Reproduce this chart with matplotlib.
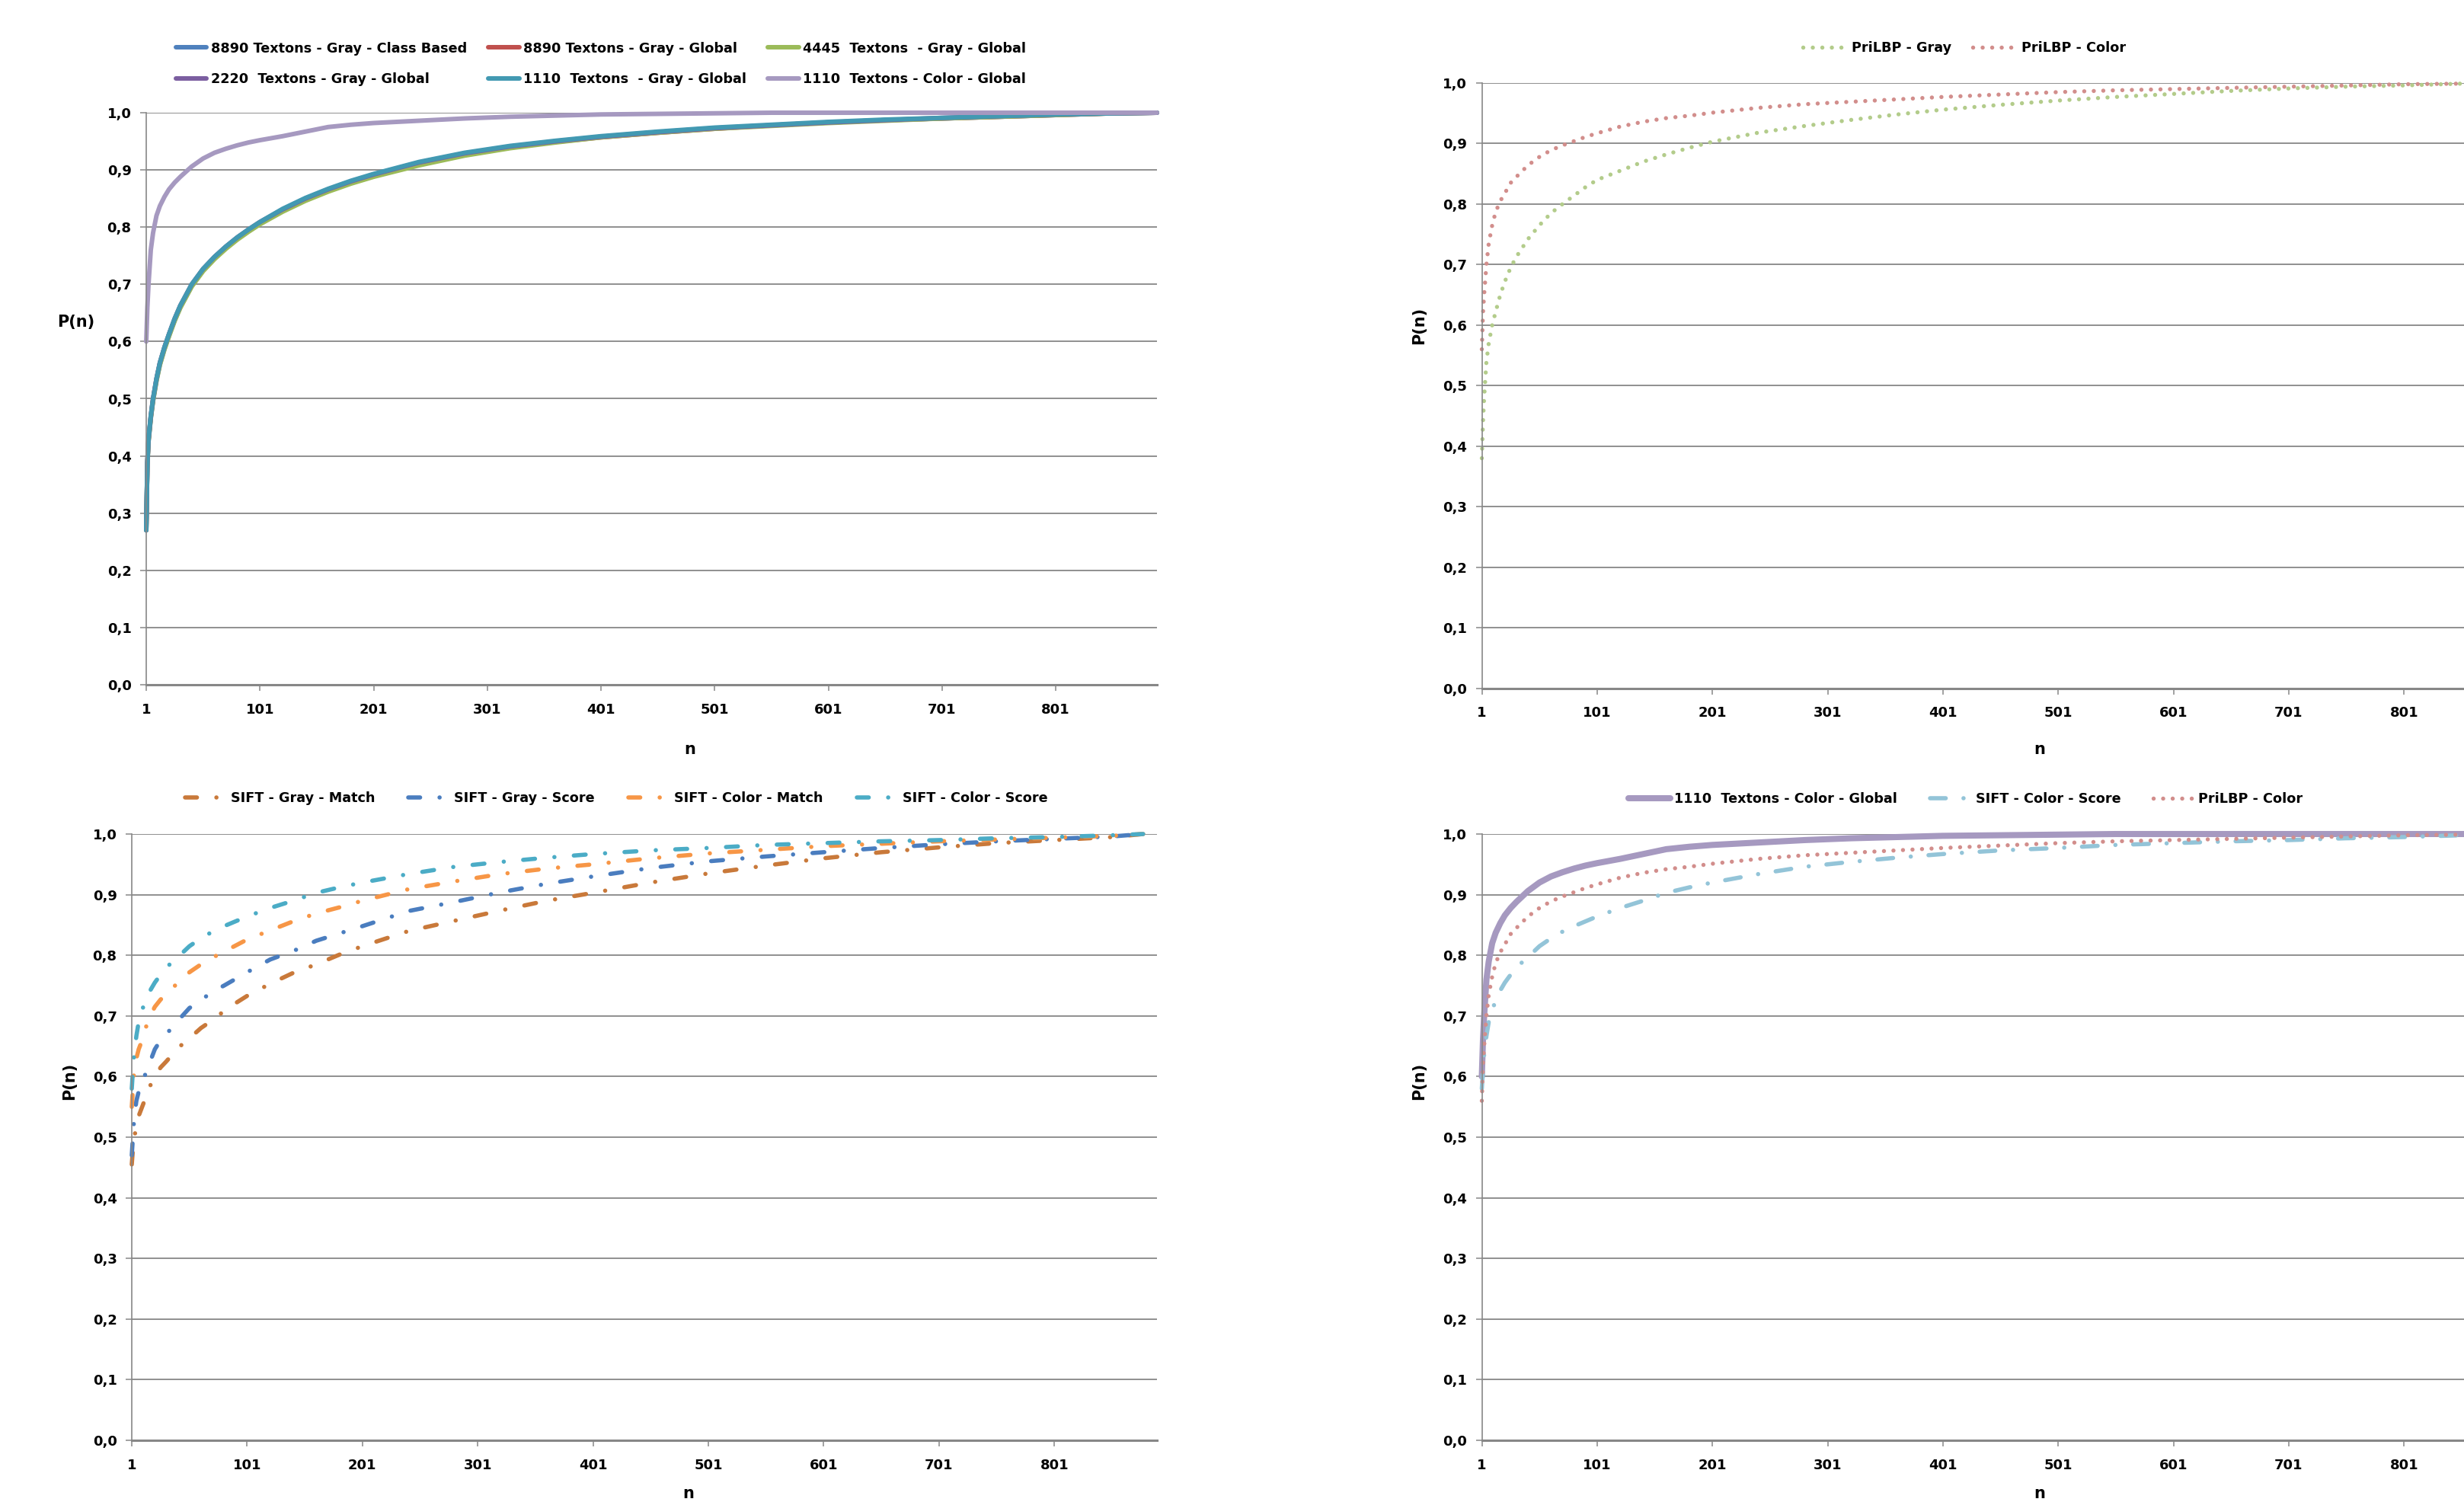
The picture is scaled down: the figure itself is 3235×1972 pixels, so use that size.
import matplotlib
matplotlib.use("Agg")
import matplotlib.pyplot as plt
from matplotlib.font_manager import FontProperties

plt.rcParams['font.family'] = ['DejaVu Sans']
plt.rcParams['font.weight'] = 'bold'

# ---------------- data ----------------
N_TEX = [1, 2, 3, 5, 7, 10, 13, 17, 21, 26, 31, 41, 51, 61, 71, 81, 91, 101, 121, 141, 161, 181,
         201, 241, 281, 321, 361, 401, 451, 501, 551, 601, 651, 701, 751, 801, 851, 890]
N_SIFT = [1, 2, 3, 5, 7, 10, 13, 17, 21, 26, 31, 41, 51, 61, 71, 81, 91, 101, 121, 141, 161, 181,
          201, 241, 281, 321, 361, 401, 451, 501, 551, 601, 651, 701, 751, 801, 851, 878]

tex_8890_class = [0.27, 0.385, 0.425, 0.466, 0.497, 0.532, 0.56, 0.587, 0.61, 0.637, 0.66, 0.697, 0.724,
                  0.745, 0.763, 0.779, 0.793, 0.806, 0.829, 0.848, 0.865, 0.879, 0.891, 0.911, 0.927, 0.94,
                  0.95, 0.958, 0.966, 0.973, 0.978, 0.983, 0.987, 0.99, 0.993, 0.996, 0.999, 1.0]
tex_8890_global = [0.27, 0.387, 0.428, 0.468, 0.499, 0.534, 0.562, 0.589, 0.612, 0.639, 0.662, 0.699, 0.726,
                   0.747, 0.765, 0.781, 0.795, 0.808, 0.83, 0.849, 0.865, 0.878, 0.889, 0.91, 0.926, 0.939,
                   0.949, 0.957, 0.965, 0.972, 0.978, 0.983, 0.987, 0.99, 0.993, 0.996, 0.999, 1.0]
tex_4445_global = [0.27, 0.384, 0.426, 0.466, 0.496, 0.531, 0.559, 0.586, 0.609, 0.636, 0.659, 0.696, 0.723,
                   0.744, 0.762, 0.778, 0.792, 0.805, 0.827, 0.846, 0.862, 0.876, 0.888, 0.908, 0.925, 0.938,
                   0.948, 0.957, 0.965, 0.972, 0.977, 0.982, 0.986, 0.99, 0.993, 0.996, 0.999, 1.0]
tex_2220_global = [0.27, 0.388, 0.429, 0.469, 0.5, 0.535, 0.563, 0.59, 0.613, 0.64, 0.663, 0.7, 0.727,
                   0.748, 0.766, 0.782, 0.796, 0.809, 0.831, 0.85, 0.866, 0.88, 0.892, 0.913, 0.929, 0.941,
                   0.95, 0.958, 0.966, 0.973, 0.978, 0.983, 0.987, 0.991, 0.994, 0.997, 0.999, 1.0]
tex_1110_gray = [0.27, 0.39, 0.43, 0.47, 0.5, 0.535, 0.563, 0.59, 0.613, 0.64, 0.663, 0.7, 0.727,
                 0.748, 0.766, 0.782, 0.796, 0.809, 0.832, 0.851, 0.867, 0.881, 0.893, 0.914, 0.93, 0.942,
                 0.951, 0.959, 0.967, 0.974, 0.979, 0.984, 0.988, 0.991, 0.994, 0.997, 0.999, 1.0]
tex_1110_color = [0.6, 0.66, 0.7, 0.76, 0.79, 0.82, 0.837, 0.853, 0.866, 0.878, 0.888, 0.906, 0.92,
                  0.93, 0.937, 0.943, 0.948, 0.952, 0.959, 0.967, 0.975, 0.979, 0.982, 0.986, 0.99, 0.993,
                  0.995, 0.997, 0.998, 0.999, 1.0, 1.0, 1.0, 1.0, 1.0, 1.0, 1.0, 1.0]

lbp_gray = [0.38, 0.44, 0.48, 0.54, 0.57, 0.6, 0.622, 0.65, 0.672, 0.695, 0.713, 0.742, 0.765,
            0.785, 0.8, 0.814, 0.828, 0.84, 0.855, 0.87, 0.882, 0.893, 0.903, 0.918, 0.929, 0.939,
            0.948, 0.956, 0.964, 0.971, 0.977, 0.982, 0.987, 0.991, 0.994, 0.996, 0.999, 1.0]
lbp_color = [0.56, 0.62, 0.65, 0.7, 0.735, 0.765, 0.787, 0.805, 0.818, 0.835, 0.845, 0.864, 0.878,
             0.889, 0.897, 0.904, 0.911, 0.917, 0.928, 0.936, 0.942, 0.946, 0.951, 0.959, 0.965, 0.969,
             0.973, 0.977, 0.981, 0.985, 0.988, 0.99, 0.992, 0.994, 0.996, 0.998, 0.999, 1.0]

sift_gray_match = [0.455, 0.48, 0.5, 0.515, 0.535, 0.55, 0.565, 0.585, 0.6, 0.615, 0.625, 0.647, 0.663,
                   0.68, 0.693, 0.708, 0.721, 0.733, 0.753, 0.771, 0.785, 0.801, 0.815, 0.84, 0.857, 0.874,
                   0.89, 0.903, 0.92, 0.935, 0.948, 0.96, 0.97, 0.978, 0.985, 0.99, 0.995, 1.0]
sift_gray_score = [0.47, 0.5, 0.53, 0.56, 0.575, 0.59, 0.605, 0.625, 0.645, 0.66, 0.67, 0.692, 0.713,
                   0.726, 0.74, 0.75, 0.761, 0.772, 0.793, 0.807, 0.824, 0.836, 0.848, 0.873, 0.888, 0.904,
                   0.918, 0.93, 0.944, 0.955, 0.963, 0.97, 0.977, 0.983, 0.988, 0.992, 0.996, 1.0]
sift_color_match = [0.55, 0.58, 0.608, 0.63, 0.645, 0.66, 0.68, 0.7, 0.715, 0.727, 0.735, 0.755, 0.772,
                    0.785, 0.796, 0.806, 0.816, 0.826, 0.841, 0.856, 0.869, 0.879, 0.89, 0.909, 0.922, 0.934,
                    0.943, 0.95, 0.96, 0.968, 0.974, 0.98, 0.984, 0.988, 0.991, 0.994, 0.997, 1.0]
sift_color_score = [0.58, 0.61, 0.636, 0.667, 0.69, 0.71, 0.725, 0.742, 0.755, 0.768, 0.78, 0.797, 0.815,
                    0.828, 0.839, 0.848, 0.856, 0.864, 0.878, 0.89, 0.903, 0.912, 0.92, 0.934, 0.946, 0.954,
                    0.961, 0.967, 0.973, 0.977, 0.982, 0.985, 0.988, 0.99, 0.993, 0.995, 0.998, 1.0]

X_TICKS = [1, 101, 201, 301, 401, 501, 601, 701, 801]
X_TICK_LABELS = ['1', '101', '201', '301', '401', '501', '601', '701', '801']
Y_TICKS = [0.0, 0.1, 0.2, 0.3, 0.4, 0.5, 0.6, 0.7, 0.8, 0.9, 1.0]
Y_TICK_LABELS = ['0,0', '0,1', '0,2', '0,3', '0,4', '0,5', '0,6', '0,7', '0,8', '0,9', '1,0']

# ---------------- styling ----------------
W, H = 3235, 1972
fig = plt.figure(figsize=(W / 100, H / 100), dpi=100)
GRID = '#878787'
TICK_FS = 13
LEG_FS = 12.7
LAB_FS = 15

DOT = (0, (0.01, 2.3))
DASHDOT = (0, (2.8, 4.6, 0.01, 4.6))
DASHDOT2 = (0, (3.7, 4.2, 0.01, 4.2))


def fx(px):
    return px / W


def fy(py):
    return 1 - py / H


def setup(ax):
    ax.set_xlim(1, 890)
    ax.set_ylim(0, 1)
    ax.set_xticks(X_TICKS)
    ax.set_xticklabels(X_TICK_LABELS, fontsize=TICK_FS, fontweight='bold')
    ax.set_yticks(Y_TICKS)
    ax.set_yticklabels(Y_TICK_LABELS, fontsize=TICK_FS, fontweight='bold')
    ax.grid(axis='y', color=GRID, lw=1.3)
    ax.set_axisbelow(True)
    for s in ['top', 'right']:
        ax.spines[s].set_visible(False)
    ax.spines['left'].set_color(GRID)
    ax.spines['left'].set_linewidth(1.2)
    ax.spines['bottom'].set_color(GRID)
    ax.spines['bottom'].set_linewidth(2.2)
    ax.tick_params(axis='x', direction='out', length=6, width=1.1, color=GRID, pad=11)
    ax.tick_params(axis='y', direction='out', length=6, width=1.1, color=GRID, pad=8)


def pl(ax, x, y, color, lw, ls='-', label=None):
    ln, = ax.plot(x, y, color=color, lw=lw, ls=ls, label=label, clip_on=False,
                  dash_capstyle='round', solid_capstyle='round', solid_joinstyle='round')
    return ln


def legend(ax, x, y, ncol, hl, tp=0.3, cs=1.0, ls=1.1, order=None):
    h, l = ax.get_legend_handles_labels()
    if order is not None:
        h = [h[i] for i in order]
        l = [l[i] for i in order]
    ax.legend(h, l, loc='center', bbox_to_anchor=(fx(x), fy(y)), bbox_transform=fig.transFigure,
              ncol=ncol, frameon=False, prop=FontProperties(weight='bold', size=LEG_FS),
              handlelength=hl, handletextpad=tp, columnspacing=cs, labelspacing=ls,
              borderaxespad=0, borderpad=0)


# ---- top-left ----
ax1 = fig.add_axes([fx(192), fy(899), fx(1519) - fx(192), fy(148) - fy(899)])
setup(ax1)
pl(ax1, N_TEX, tex_8890_class, '#4F81BD', 4.3, label='8890 Textons - Gray - Class Based')
pl(ax1, N_TEX, tex_8890_global, '#C0504D', 4.3, label='8890 Textons - Gray - Global')
pl(ax1, N_TEX, tex_4445_global, '#9BBB59', 4.3, label='4445  Textons  - Gray - Global')
pl(ax1, N_TEX, tex_2220_global, '#7B5EA0', 4.3, label='2220  Textons - Gray - Global')
pl(ax1, N_TEX, tex_1110_gray, '#4299B2', 4.3, label='1110  Textons  - Gray - Global')
pl(ax1, N_TEX, tex_1110_color, '#A699C0', 4.3, label='1110  Textons - Color - Global')
# Excel fills legend rows first; matplotlib fills columns first
legend(ax1, 789, 84, 3, 2.3, tp=0.3, cs=1.6, ls=1.3, order=[0, 3, 1, 4, 2, 5])
fig.text(fx(100), fy(423), 'P(n)', fontsize=LAB_FS, fontweight='bold', ha='center', va='center')
fig.text(fx(906), fy(984), 'n', fontsize=LAB_FS, fontweight='bold', ha='center', va='center')

# ---- top-right ----
ax2 = fig.add_axes([fx(1945.5), fy(903.5), fx(3291) - fx(1945.5), fy(109) - fy(903.5)])
setup(ax2)
pl(ax2, N_TEX, lbp_gray, '#B3CC8B', 3.9, DOT, label='PriLBP - Gray')
pl(ax2, N_TEX, lbp_color, '#D28E8C', 3.9, DOT, label='PriLBP - Color')
legend(ax2, 2579, 63, 2, 3.3, tp=0.3, cs=1.6)
fig.text(fx(1863), fy(427), 'P(n)', fontsize=LAB_FS, fontweight='bold', ha='center', va='center',
         rotation=90)
fig.text(fx(2678), fy(984), 'n', fontsize=LAB_FS, fontweight='bold', ha='center', va='center')

# ---- bottom-left ----
ax3 = fig.add_axes([fx(173), fy(1891), fx(1519) - fx(173), fy(1095) - fy(1891)])
setup(ax3)
pl(ax3, N_SIFT, sift_gray_match, '#C9793A', 4, DASHDOT, label='SIFT - Gray - Match')
pl(ax3, N_SIFT, sift_gray_score, '#4A7DBF', 4, DASHDOT, label='SIFT - Gray - Score')
pl(ax3, N_SIFT, sift_color_match, '#F79646', 4, DASHDOT, label='SIFT - Color - Match')
pl(ax3, N_SIFT, sift_color_score, '#4BACC6', 4, DASHDOT, label='SIFT - Color - Score')
legend(ax3, 809, 1048, 4, 2.9, tp=0.5, cs=2.5)
fig.text(fx(91), fy(1419), 'P(n)', fontsize=LAB_FS, fontweight='bold', ha='center', va='center',
         rotation=90)
fig.text(fx(904), fy(1971), 'n', fontsize=LAB_FS, fontweight='bold', ha='center', va='bottom')

# ---- bottom-right ----
ax4 = fig.add_axes([fx(1945.5), fy(1891), fx(3291) - fx(1945.5), fy(1095) - fy(1891)])
setup(ax4)
pl(ax4, N_TEX, tex_1110_color, '#A699C0', 5.8, label='1110  Textons - Color - Global')
pl(ax4, N_SIFT, sift_color_score, '#93C4D8', 4, DASHDOT2, label='SIFT - Color - Score')
pl(ax4, N_TEX, lbp_color, '#D28E8C', 3.9, DOT, label='PriLBP - Color')
legend(ax4, 2581, 1049, 3, 3.1, tp=0.3, cs=2.4)
fig.text(fx(1863), fy(1419), 'P(n)', fontsize=LAB_FS, fontweight='bold', ha='center', va='center',
         rotation=90)
fig.text(fx(2678), fy(1971), 'n', fontsize=LAB_FS, fontweight='bold', ha='center', va='bottom')

fig.savefig('out.png', dpi=100)
